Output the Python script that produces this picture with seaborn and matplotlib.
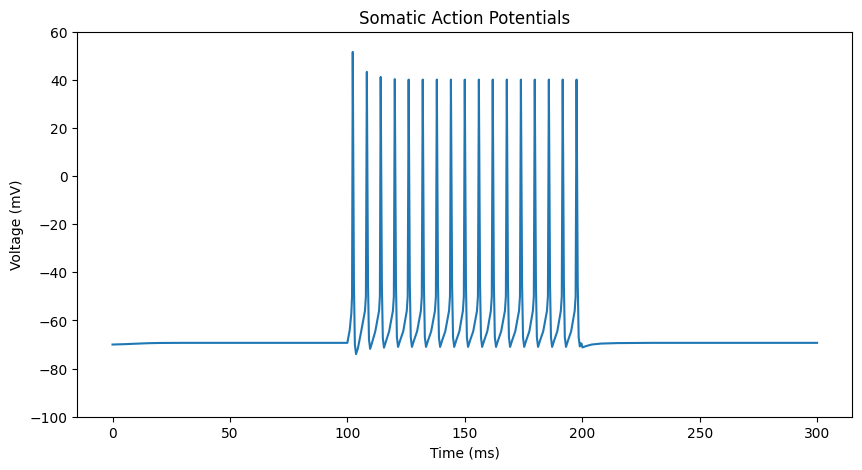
import matplotlib
matplotlib.use("Agg")
import matplotlib.pyplot as plt
import seaborn as sns

# Membrane voltage trace, key points
time_ms = [
    0.0, 5.0, 10.0, 15.0, 20.0, 30.0, 100.0,
    101.0, 101.7, 102.0,
    102.3, 102.8, 103.2, 103.7, 104.5, 105.9, 107.5, 107.9,
    108.3, 108.8, 109.2, 109.7, 110.5, 111.9, 113.5, 113.85,
    114.2, 114.7, 115.1, 115.6, 116.4, 117.8, 119.4, 119.8,
    120.2, 120.7, 121.1, 121.6, 122.4, 123.8, 125.3, 125.7,
    126.1, 126.6, 127.0, 127.5, 128.3, 129.7, 131.3, 131.7,
    132.1, 132.6, 133.0, 133.5, 134.3, 135.7, 137.3, 137.7,
    138.1, 138.6, 139.0, 139.5, 140.3, 141.7, 143.3, 143.7,
    144.1, 144.6, 145.0, 145.5, 146.3, 147.7, 149.2, 149.6,
    150.0, 150.5, 150.9, 151.4, 152.2, 153.6, 155.2, 155.6,
    156.0, 156.5, 156.9, 157.4, 158.2, 159.6, 161.1, 161.5,
    161.9, 162.4, 162.8, 163.3, 164.1, 165.5, 167.1, 167.5,
    167.9, 168.4, 168.8, 169.3, 170.1, 171.5, 173.1, 173.5,
    173.9, 174.4, 174.8, 175.3, 176.1, 177.5, 179.0, 179.4,
    179.8, 180.3, 180.7, 181.2, 182.0, 183.4, 185.0, 185.4,
    185.8, 186.3, 186.7, 187.2, 188.0, 189.4, 190.9, 191.3,
    191.7, 192.2, 192.6, 193.1, 193.9, 195.3, 196.8, 197.2,
    197.6, 198.1, 198.5, 199.0, 199.4, 199.7, 200.1, 201.5,
    204.0, 208.0, 215.0, 230.0, 300.0,
]
voltage_mv = [
    -70.0, -69.85, -69.65, -69.45, -69.35, -69.3, -69.3,
    -64.0, -57.0, -50.0,
    51.6, -45.0, -70.0, -74.0, -71.5, -64.5, -56.0, -50.0,
    43.3, -45.0, -67.8, -71.8, -69.3, -64.5, -56.0, -50.0,
    41.2, -45.0, -67.3, -71.3, -68.8, -64.5, -56.0, -50.0,
    40.3, -45.0, -67.0, -71.0, -68.5, -64.5, -56.0, -50.0,
    40.1, -45.0, -67.0, -71.0, -68.5, -64.5, -56.0, -50.0,
    40.1, -45.0, -67.0, -71.0, -68.5, -64.5, -56.0, -50.0,
    40.1, -45.0, -67.0, -71.0, -68.5, -64.5, -56.0, -50.0,
    40.1, -45.0, -67.0, -71.0, -68.5, -64.5, -56.0, -50.0,
    40.1, -45.0, -67.0, -71.0, -68.5, -64.5, -56.0, -50.0,
    40.1, -45.0, -67.0, -71.0, -68.5, -64.5, -56.0, -50.0,
    40.1, -45.0, -67.0, -71.0, -68.5, -64.5, -56.0, -50.0,
    40.1, -45.0, -67.0, -71.0, -68.5, -64.5, -56.0, -50.0,
    40.1, -45.0, -67.0, -71.0, -68.5, -64.5, -56.0, -50.0,
    40.1, -45.0, -67.0, -71.0, -68.5, -64.5, -56.0, -50.0,
    40.1, -45.0, -67.0, -71.0, -68.5, -64.5, -56.0, -50.0,
    40.1, -45.0, -67.0, -71.0, -68.5, -64.5, -56.0, -50.0,
    40.1, -45.0, -67.0, -70.8, -69.5, -69.6, -71.2, -70.7,
    -70.0, -69.6, -69.4, -69.3, -69.3,
]

fig, ax = plt.subplots(figsize=(10, 5))
sns.lineplot(x=time_ms, y=voltage_mv, ax=ax, color="#1f77b4", linewidth=1.5)

ax.set_ylim(-100, 60)
ax.set_title("Somatic Action Potentials")
ax.set_xlabel("Time (ms)")
ax.set_ylabel("Voltage (mV)")

plt.savefig("out.png", dpi=100, bbox_inches="tight")
